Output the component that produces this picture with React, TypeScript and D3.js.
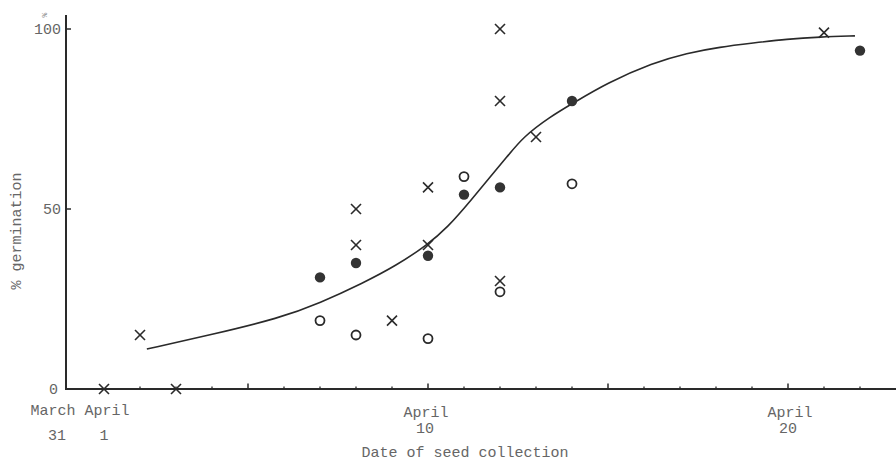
import React from "react";
import * as d3 from "d3";

const W = 896;
const H = 462;

// Day index: March 31 = 0, April 1 = 1, ... April 20 = 20
const crossDays = [1, 3, 2, 8, 8, 9, 10, 10, 12, 12, 12, 13, 21];
const crossPct = [0, 0, 15, 50, 40, 19, 56, 40, 100, 80, 30, 70, 99];

const filledDays = [7, 8, 10, 11, 12, 14, 22];
const filledPct = [31, 35, 37, 54, 56, 80, 94];

const openDays = [7, 8, 10, 11, 12, 14];
const openPct = [19, 15, 14, 59, 27, 57];

const curveDays = [2.19, 3.94, 5.89, 7.0, 8.19, 9.14, 9.97, 10.53, 11.25, 11.72, 12.19, 12.64, 13.39, 14.03, 14.97, 16.25, 17.19, 18.11, 19.03, 19.97, 20.89, 21.86];
const curvePct = [11.1, 15.0, 19.7, 23.9, 29.4, 34.4, 40.0, 44.7, 53.1, 58.9, 64.4, 70.0, 75.6, 79.4, 85.0, 90.6, 93.3, 95.0, 96.1, 97.2, 97.8, 98.1];

const yTicks = [0, 50, 100];
const xMinorTicks = [2, 3, 4, 6, 7, 8, 9, 11, 12, 13, 14, 16, 17, 18, 19, 21, 22];
const xMajorTicks = [5, 10, 15, 20];

const FONT = "'Liberation Mono', 'DejaVu Sans Mono', monospace";
const TEXT = "#666";
const INK = "#2a2a2a";

export default function App() {
  const x = d3.scaleLinear().domain([0, 23]).range([68, 68 + 23 * 36]);
  const y = d3.scaleLinear().domain([0, 100]).range([389, 29]);

  const curveData = curveDays.map((d, i) => [d, curvePct[i]] as [number, number]);
  const line = d3
    .line<[number, number]>()
    .x((d) => x(d[0]))
    .y((d) => y(d[1]))
    .curve(d3.curveBasis);

  const axisX = 66;
  const axisY = y(0);

  return (
    <svg
      width={W}
      height={H}
      style={{ position: "absolute", left: 0, top: 0, background: "#fff" }}
      fontFamily={FONT}
    >
      {/* axes */}
      <line x1={axisX} y1={15} x2={axisX} y2={axisY + 1} stroke={INK} strokeWidth={2} />
      <line x1={axisX - 1} y1={axisY} x2={W} y2={axisY} stroke={INK} strokeWidth={2} />

      {/* y ticks */}
      {yTicks.map((t) => (
        <g key={"yt" + t}>
          {t > 0 && (
            <line x1={axisX} x2={axisX + 5} y1={y(t)} y2={y(t)} stroke={INK} strokeWidth={1.5} />
          )}
          <text
            x={t === 0 ? 58 : 61}
            y={y(t)}
            dy="0.35em"
            textAnchor="end"
            fontSize={15}
            fill={TEXT}
          >
            {t}
          </text>
        </g>
      ))}

      {/* x ticks */}
      {xMinorTicks.map((t) => (
        <line key={"xm" + t} x1={x(t)} x2={x(t)} y1={axisY} y2={axisY - 2.5} stroke={INK} strokeWidth={1.3} />
      ))}
      {xMajorTicks.map((t) => (
        <line key={"xM" + t} x1={x(t)} x2={x(t)} y1={axisY} y2={axisY - 5.5} stroke={INK} strokeWidth={1.5} />
      ))}

      {/* x labels */}
      <g fontSize={15} fill={TEXT}>
        <text x={53} y={415} textAnchor="middle">March</text>
        <text x={107} y={415} textAnchor="middle">April</text>
        <text x={57} y={440} textAnchor="middle">31</text>
        <text x={104} y={440} textAnchor="middle">1</text>
        <text x={x(10) - 2} y={417} textAnchor="middle">April</text>
        <text x={x(10) - 3} y={433} textAnchor="middle">10</text>
        <text x={x(20) + 2} y={417} textAnchor="middle">April</text>
        <text x={x(20)} y={433} textAnchor="middle">20</text>
        <text x={465} y={457} textAnchor="middle">Date of seed collection</text>
      </g>

      {/* y label */}
      <text
        transform="translate(21,231) rotate(-90)"
        textAnchor="middle"
        fontSize={15}
        fill={TEXT}
      >
        % germination
      </text>
      <text
        transform="translate(47,15) rotate(-90)"
        textAnchor="middle"
        fontSize={8}
        fill="#888"
      >
        %
      </text>

      {/* fitted curve */}
      <path d={line(curveData) || ""} fill="none" stroke={INK} strokeWidth={1.6} />

      {/* crosses */}
      {crossDays.map((d, i) => {
        const cx = x(d);
        const cy = y(crossPct[i]);
        const s = 5;
        return (
          <g key={"c" + i} stroke={INK} strokeWidth={1.6}>
            <line x1={cx - s} y1={cy - s} x2={cx + s} y2={cy + s} />
            <line x1={cx - s} y1={cy + s} x2={cx + s} y2={cy - s} />
          </g>
        );
      })}

      {/* filled circles */}
      {filledDays.map((d, i) => (
        <circle key={"f" + i} cx={x(d)} cy={y(filledPct[i])} r={5.2} fill="#333" />
      ))}

      {/* open circles */}
      {openDays.map((d, i) => (
        <circle
          key={"o" + i}
          cx={x(d)}
          cy={y(openPct[i])}
          r={4.5}
          fill="none"
          stroke={INK}
          strokeWidth={1.8}
        />
      ))}
    </svg>
  );
}
